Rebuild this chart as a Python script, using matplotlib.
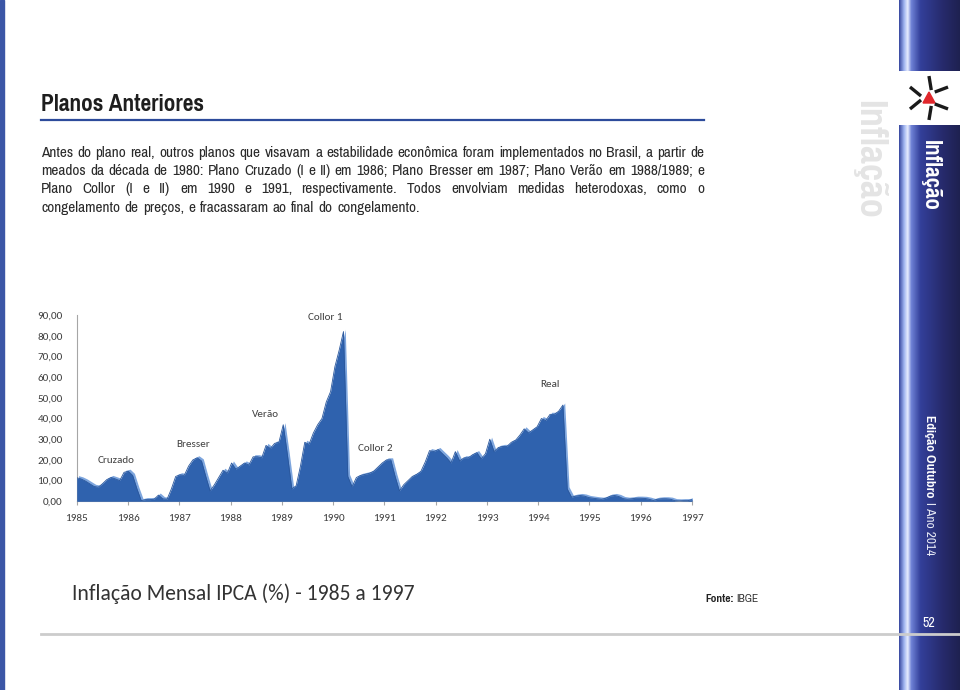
import numpy as np
import matplotlib
matplotlib.use("Agg")
import matplotlib.pyplot as plt
from matplotlib import font_manager as fm
from matplotlib.patches import Rectangle, Polygon
from matplotlib.colors import LinearSegmentedColormap
from matplotlib.ticker import FuncFormatter

# monthly IPCA (%), Jan..Dec
ipca_1985 = [11.4, 10.8, 9.8, 8.5, 7.2, 6.8, 8.5, 10.5, 11.5, 10.8, 10.0, 14.0]
ipca_1986 = [14.5, 12.5, 6.0, 0.3, 0.8, 0.8, 1.0, 3.0, 1.2, 1.0, 6.0, 12.0]
ipca_1987 = [12.8, 12.5, 17.0, 20.0, 21.0, 19.5, 12.0, 5.0, 8.0, 11.5, 15.0, 13.5]
ipca_1988 = [18.5, 15.5, 17.0, 18.5, 17.5, 21.5, 21.5, 21.0, 27.0, 25.5, 28.0, 28.5]
ipca_1989 = [37.0, 22.0, 6.0, 7.5, 17.0, 28.5, 27.5, 33.0, 37.0, 40.0, 48.0, 53.0]
ipca_1990 = [65.0, 73.0, 82.0, 12.0, 7.0, 11.5, 12.5, 13.0, 13.5, 14.5, 16.5, 18.5]
ipca_1991 = [20.0, 20.0, 12.0, 5.0, 8.0, 10.0, 12.0, 13.0, 14.5, 19.0, 24.5, 24.0]
ipca_1992 = [25.0, 23.0, 21.0, 18.5, 24.0, 19.5, 21.0, 21.0, 22.5, 23.5, 20.5, 23.0]
ipca_1993 = [30.0, 24.0, 26.0, 26.5, 26.5, 28.5, 29.5, 32.0, 35.0, 33.0, 34.5, 36.0]
ipca_1994 = [40.0, 39.0, 42.0, 42.0, 43.5, 46.5, 6.0, 2.0, 2.5, 2.8, 2.5, 1.8]
ipca_1995 = [1.5, 1.2, 1.0, 1.5, 2.5, 2.8, 2.3, 1.3, 1.0, 1.2, 1.5, 1.5]
ipca_1996 = [1.4, 1.0, 0.4, 1.0, 1.2, 1.2, 1.0, 0.3, 0.2, 0.3, 0.3, 0.8]

years = list(range(1985, 1998))
yticks = [0, 10, 20, 30, 40, 50, 60, 70, 80, 90]

plan_labels = ["Cruzado", "Bresser", "Verão", "Collor 1", "Collor 2", "Real"]
plan_x = [1985.77, 1987.27, 1988.69, 1989.84, 1990.82, 1994.23]
plan_y = [19.5, 27.2, 41.7, 88.6, 25.3, 56.2]

title = "Planos Anteriores"
body = [
    "Antes do plano real, outros planos que visavam a estabilidade econômica foram implementados no Brasil, a partir de",
    "meados da década de 1980:  Plano Cruzado (I e II) em 1986; Plano Bresser em 1987; Plano Verão em 1988/1989; e",
    "Plano Collor (I e II) em 1990 e 1991, respectivamente.  Todos envolviam medidas heterodoxas, como o",
    "congelamento de preços,  e fracassaram ao final do congelamento.",
]

ipca = np.array(ipca_1985 + ipca_1986 + ipca_1987 + ipca_1988 + ipca_1989 + ipca_1990
                + ipca_1991 + ipca_1992 + ipca_1993 + ipca_1994 + ipca_1995 + ipca_1996)
x = np.linspace(1985, 1997, len(ipca))

installed = {f.name for f in fm.fontManager.ttflist}


def first_font(options, default):
    for n in options:
        if n in installed:
            return n
    return default


# Helvetica Condensed stand-in for the magazine text, Calibri stand-in for the chart
nfam = first_font(["Pragati Narrow", "PT Sans Narrow", "Fira Sans Condensed", "Asap Condensed",
                   "Barlow Semi Condensed", "Roboto Condensed"], "Roboto")
calib = first_font(["Carlito", "Lato"], "DejaVu Sans")

W, H = 960, 690
fig = plt.figure(figsize=(9.6, 6.9), dpi=100)
fig.patch.set_facecolor("white")
renderer = fig.canvas.get_renderer()


def fx(px):
    return px / W


def fy(py):
    return 1 - py / H


def fit_width(t, target):
    # shrink a text until it is no wider than target px
    while t.get_window_extent(renderer).width > target and t.get_fontsize() > 5:
        t.set_fontsize(t.get_fontsize() - 0.25)


# left stripe
fig.patches.append(Rectangle((0, 0), fx(4), 1, transform=fig.transFigure, color="#3b56a6", zorder=1))

# right sidebar gradient
side = fig.add_axes([fx(899), 0, fx(61), 1])
grad = np.linspace(0, 1, 200).reshape(1, -1)
cmap = LinearSegmentedColormap.from_list("side", [
    (0.0, "#3848a0"), (0.08, "#9fb3f0"), (0.14, "#e8eeff"), (0.2, "#6f82d6"),
    (0.35, "#33409a"), (0.7, "#272b6e"), (1.0, "#1e2150")])
side.imshow(grad, aspect="auto", cmap=cmap, extent=[0, 1, 0, 1])
side.set_xlim(0, 1)
side.set_ylim(0, 1)
side.axis("off")

# logo box
logo = fig.add_axes([fx(899), fy(125), fx(61), (125 - 71) / H])
logo.set_xlim(0, 61)
logo.set_ylim(0, 54)
logo.add_patch(Rectangle((0, 0), 61, 54, color="white"))
cx, cy = 30, 27
logo.add_patch(Polygon([[cx - 6, cy - 5], [cx + 6, cy - 5], [cx, cy + 6]], color="#e0262b"))
for ang in [60, 180, 300]:
    a = np.radians(ang)
    d = np.array([np.cos(a), np.sin(a)])
    n = np.array([-d[1], d[0]])
    base = np.array([cx, cy]) + d * 8
    for s in [-1, 1]:
        p1 = base + n * s * 2
        p2 = p1 + d * 11 + n * s * 9
        logo.plot([p1[0], p2[0]], [p1[1], p2[1]], color="#1a1a1a", lw=2.4, solid_capstyle="butt")
logo.axis("off")

# sidebar texts
fig.text(fx(930), fy(140), "Inflação", rotation=-90, color="white", fontsize=18,
         fontweight="bold", ha="center", va="top", family=nfam)
fig.text(fx(869), fy(100), "Inflação", rotation=-90, color="#e4e4e4", fontsize=30,
         fontweight="bold", ha="center", va="top", family=nfam)
ed = fig.text(fx(929), fy(415), "Edição Outubro", rotation=-90, color="white", fontsize=10.5,
              fontweight="bold", ha="center", va="top", family=nfam)
h1 = ed.get_window_extent(renderer).height
fig.text(fx(929), fy(415 + h1 + 4), "I Ano 2014", rotation=-90, color="#e6e9f5", fontsize=10.5,
         ha="center", va="top", family=nfam)
fig.text(fx(929), fy(623), "52", color="white", fontsize=11, ha="center", va="center", family=nfam)

# bottom gray rule
fig.lines.append(plt.Line2D([fx(41), 1], [fy(634), fy(634)], transform=fig.transFigure,
                            color="#cccccc", lw=2, zorder=5))

# page title and rule
tt = fig.text(fx(41), fy(111), title, fontsize=20, fontweight="bold",
              color="#1e1e1e", ha="left", va="baseline", family=nfam)
fit_width(tt, 164)
fig.lines.append(plt.Line2D([fx(41), fx(704)], [fy(119.5), fy(119.5)], transform=fig.transFigure,
                            color="#2d4b9b", lw=1.6))

# justified body text, size picked so the first line nearly fills the column
baselines = [157, 175, 193, 212]
size = 15.0
while size > 6:
    probe = fig.text(0, 0, body[0], fontsize=size, family=nfam)
    wd = probe.get_window_extent(renderer).width
    probe.remove()
    if wd <= 660:
        break
    size -= 0.25

for i, line in enumerate(body):
    words = line.split()
    texts = [fig.text(0, fy(baselines[i]), w, fontsize=size, color="#2a2a2a",
                      va="baseline", ha="left", family=nfam) for w in words]
    widths = [tx.get_window_extent(renderer).width for tx in texts]
    if i < len(body) - 1:
        gap = (704 - 41 - sum(widths)) / (len(words) - 1)
    else:
        gap = size * 100 / 72 * 0.26
    xp = 41
    for tx, w in zip(texts, widths):
        tx.set_x(fx(xp))
        xp += w + gap

# chart
ax = fig.add_axes([fx(76.7), fy(501.3), fx(692) - fx(76.7), (501.3 - 315) / H])
ax.fill_between(x + 0.035, ipca + 1.0, 0, color="#7ea6de", lw=0, zorder=2)
ax.fill_between(x, ipca, 0, color="#2f62ae", lw=0, zorder=3)
ax.plot(x, ipca, color="#2a579c", lw=0.6, zorder=4)
ax.set_xlim(1985, 1997)
ax.set_ylim(0, 90)
ax.set_xticks(years)
ax.set_xticklabels([str(y) for y in years])
ax.set_yticks(yticks)
ax.yaxis.set_major_formatter(FuncFormatter(lambda v, p: f"{v:.2f}".replace(".", ",")))
for s in ["top", "right"]:
    ax.spines[s].set_visible(False)
for s in ["left", "bottom"]:
    ax.spines[s].set_color("#a6a6a6")
    ax.spines[s].set_linewidth(0.8)
ax.tick_params(axis="x", length=3, color="#a6a6a6", labelsize=8, labelcolor="#404040", pad=6)
ax.tick_params(axis="y", length=0, labelsize=8, labelcolor="#404040", pad=10)
for lab in ax.get_xticklabels() + ax.get_yticklabels():
    lab.set_family(calib)
ax.set_facecolor("none")

for lab, px_, py_ in zip(plan_labels, plan_x, plan_y):
    ax.text(px_, py_, lab, fontsize=8, color="#404040", family=calib, ha="center", va="center")

# chart caption and source
cap = fig.text(fx(72), fy(594), "Inflação Mensal IPCA (%) - 1985 a 1997", fontsize=15.8, family=calib,
               color="#333333", ha="left", va="center")
fit_width(cap, 347)
t1 = fig.text(fx(705), fy(599), "Fonte:", fontsize=9, fontweight="bold",
              color="#222222", ha="left", va="center", family=nfam)
w1 = t1.get_window_extent(renderer).width
fig.text(fx(705 + w1 + 3), fy(599), "IBGE", fontsize=9,
         color="#333333", ha="left", va="center", family=nfam)

fig.savefig("out.png", dpi=100)
